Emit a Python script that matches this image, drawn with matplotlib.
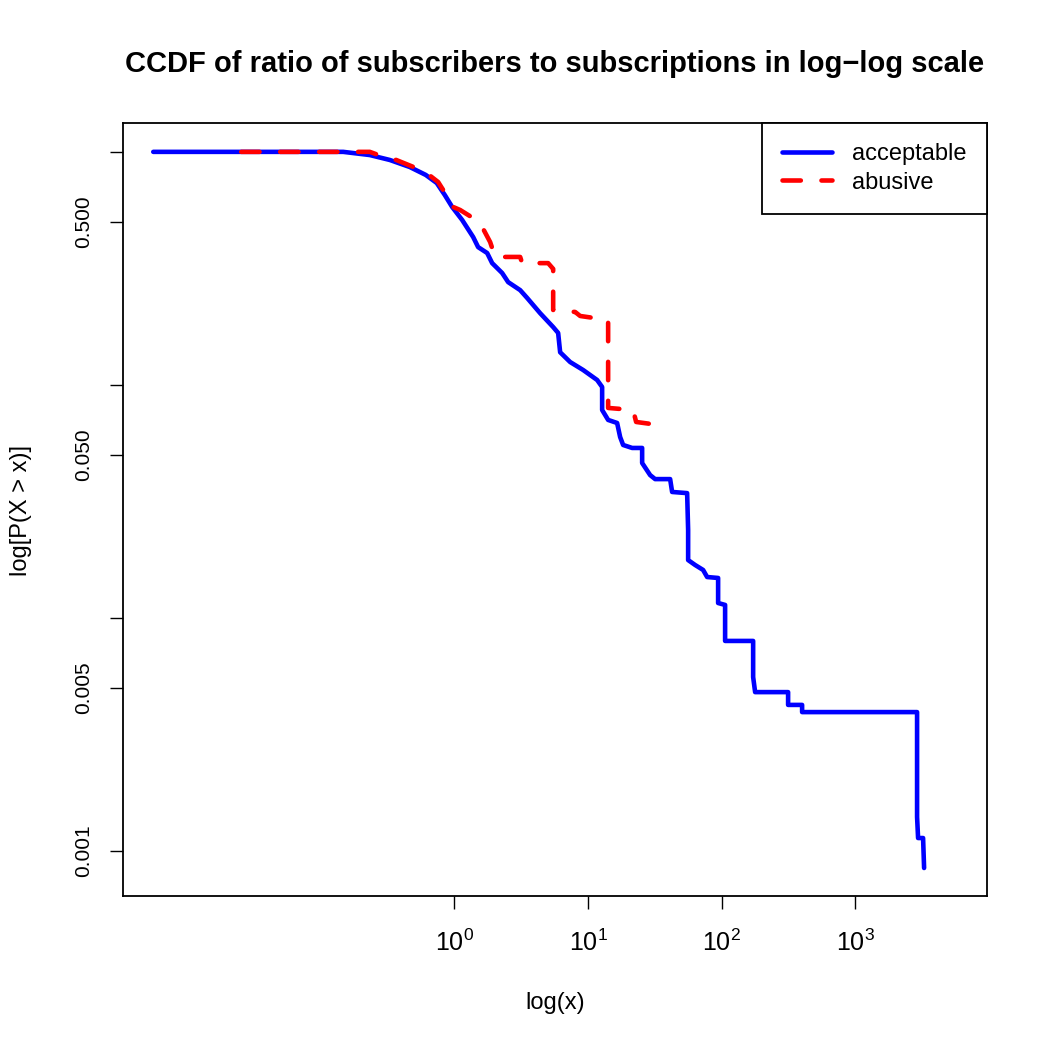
import matplotlib
matplotlib.use('Agg')
import matplotlib.pyplot as plt
from matplotlib.ticker import FixedLocator, FixedFormatter, NullLocator

plt.rcParams['font.family'] = ['Liberation Sans', 'DejaVu Sans']
plt.rcParams['mathtext.fontset'] = 'custom'
plt.rcParams['mathtext.rm'] = 'Liberation Sans'
plt.rcParams['mathtext.it'] = 'Liberation Sans'
plt.rcParams['mathtext.default'] = 'regular'

# CCDF (step corners)
acc_x = [0.00556, 0.1469, 0.2323, 0.3280, 0.4627, 0.6098, 0.7370, 0.8461, 0.9612,
         1.142, 1.380, 1.504, 1.757, 1.915, 2.275, 2.523, 3.103, 3.501, 4.381,
         5.482, 5.973, 6.183, 7.345, 9.190, 11.70, 12.75, 12.75, 14.14, 16.51,
         17.39, 18.31, 21.39, 25.41, 25.41, 29.16, 31.79, 41.17, 42.61, 55.19,
         56.15, 56.15, 63.33, 72.70, 77.90, 94.15, 94.15, 106.2, 106.2, 172.2,
         172.2, 178.2, 314.6, 314.6, 400.5, 400.5, 2906, 2906, 2957, 3223, 3280]
acc_y = [1.0, 1.0, 0.969, 0.923, 0.861, 0.796, 0.735, 0.653, 0.580,
         0.510, 0.431, 0.390, 0.368, 0.333, 0.302, 0.276, 0.255, 0.236, 0.203,
         0.177, 0.167, 0.138, 0.1253, 0.1158, 0.1049, 0.0979, 0.0780, 0.0707, 0.0686,
         0.0597, 0.0552, 0.0536, 0.0536, 0.0462, 0.0410, 0.0394, 0.0394, 0.0347, 0.0343,
         0.0238, 0.0177, 0.01686, 0.01605, 0.01497, 0.01483, 0.01158, 0.01136, 0.00796, 0.00796,
         0.00557, 0.00480, 0.00480, 0.00423, 0.00423, 0.00394, 0.00394, 0.001397, 0.001135, 0.001135, 0.000844]

abu_x = [0.02532, 0.2323, 0.3083, 0.3662, 0.5167, 0.6035, 0.7551, 0.8231, 0.9779,
         1.103, 1.454, 1.612, 1.850, 2.017, 3.103, 3.211, 5.027, 5.482, 5.482,
         8.008, 8.731, 14.14, 14.14, 21.76, 22.91, 33.47]
abu_y = [1.0, 1.0, 0.9426, 0.923, 0.852, 0.820, 0.742, 0.686, 0.580,
         0.563, 0.510, 0.476, 0.410, 0.354, 0.354, 0.333, 0.333, 0.3145, 0.2096,
         0.2055, 0.1975, 0.1898, 0.0796, 0.0780, 0.0693, 0.0673]

x_ticks = [1, 10, 100, 1000]
x_labels = ['$10^{0}$', '$10^{1}$', '$10^{2}$', '$10^{3}$']
y_ticks = [1, 0.5, 0.1, 0.05, 0.01, 0.005, 0.001]
y_labels = ['', '0.500', '', '0.050', '', '0.005', '0.001']

fig = plt.figure(figsize=(10.5, 10.5), dpi=100)
ax = fig.add_axes([123 / 1050, 154 / 1050, 864 / 1050, 773 / 1050])

ax.plot(acc_x, acc_y, color='#0000FF', lw=3.3, solid_capstyle='round',
        solid_joinstyle='round', label='acceptable')
ax.plot(abu_x, abu_y, color='#FF0000', lw=3.3, dashes=(4, 4.5), dash_capstyle='round',
        dash_joinstyle='round', label='abusive')

ax.set_xscale('log')
ax.set_yscale('log')
ax.set_xlim(0.0033, 9700)
ax.set_ylim(0.00064, 1.33)

ax.xaxis.set_major_locator(FixedLocator(x_ticks))
ax.xaxis.set_major_formatter(FixedFormatter(x_labels))
ax.xaxis.set_minor_locator(NullLocator())
ax.yaxis.set_major_locator(FixedLocator(y_ticks))
ax.yaxis.set_major_formatter(FixedFormatter(y_labels))
ax.yaxis.set_minor_locator(NullLocator())

ax.tick_params(axis='both', length=9.5, width=1.0)
ax.tick_params(axis='x', pad=15, labelsize=18)
ax.tick_params(axis='y', pad=12, labelsize=15)
for lab in ax.get_yticklabels():
    lab.set_rotation(90)
    lab.set_va('center')

for sp in ax.spines.values():
    sp.set_linewidth(1.3)

leg = ax.legend(loc='upper right', borderaxespad=0, fancybox=False, framealpha=1,
                edgecolor='black', fontsize=17, handlelength=2.15, handletextpad=0.85,
                borderpad=0.85, labelspacing=0.28)
leg.get_frame().set_linewidth(1.3)

fig.text(555 / 1050, 1 - 64 / 1050, 'CCDF of ratio of subscribers to subscriptions in log\u2212log scale',
         ha='center', va='center', fontsize=21, fontweight='bold')
fig.text(555 / 1050, 1 - 1003 / 1050, 'log(x)', ha='center', va='center', fontsize=17)
fig.text(21 / 1050, 1 - 510 / 1050, 'log[P(X > x)]', ha='center', va='center',
         rotation=90, fontsize=17)

plt.savefig('out.png', dpi=100)
